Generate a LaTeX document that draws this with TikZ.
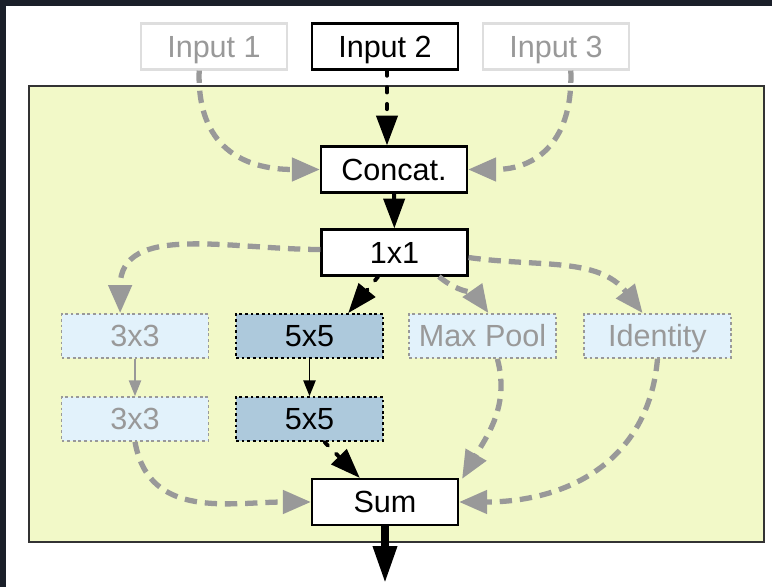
\documentclass[tikz,border=0pt]{standalone}
\usepackage{fontspec}
\setmainfont{Liberation Sans}
\usetikzlibrary{calc,arrows.meta}

\definecolor{pagedark}{HTML}{1A1F29}
\definecolor{blockfill}{HTML}{F2F9C8}
\definecolor{paleblue}{HTML}{E2F2FB}
\definecolor{steelfill}{HTML}{ADC9DC}
\definecolor{pathgray}{HTML}{999999}
\definecolor{fadegray}{HTML}{DEDEDE}

\begin{document}
\begin{tikzpicture}[
  x=0.02cm, y=-0.02cm,
  every node/.style={font=\fontsize{17.4}{20}\selectfont},
  layer/.style={draw, line width=1.2pt, fill=white, minimum width=2.92cm, minimum height=0.92cm, inner sep=0pt, text height=12.5pt, text depth=0pt},
  faded/.style={layer, draw=fadegray, text=pathgray},
  branch/.style={draw=pathgray, fill=paleblue, text=pathgray, line width=1pt, dash pattern=on 1.6pt off 1.6pt, minimum width=2.94cm, minimum height=0.88cm, inner sep=0pt, text height=12.5pt, text depth=0pt},
  picked/.style={branch, draw=black, fill=steelfill, text=black},
  skip/.style={draw=pathgray, line width=3pt, dash pattern=on 7pt off 4.5pt, -{Triangle[length=16pt,width=13pt]}},
  route/.style={draw=black, line width=2.2pt, line cap=round, dash pattern=on 3pt off 6.5pt, -{Triangle[length=17pt,width=12pt]}},
  flow/.style={draw=black, line width=2.2pt, -{Triangle[length=17pt,width=12pt]}},
  thin/.style={line width=0.9pt, -{Triangle[length=9pt,width=7pt]}},
]

% --- Hintergrund und Block ---
\fill[pagedark] (0,0) rectangle (772,587);
\fill[white] (6,6) rectangle (772,587);
\draw[fill=blockfill, draw=black!80, line width=1.2pt] (29,86) rectangle (764,542);

% --- Eingaenge ---
\node[faded] (in1) at (214,46.5) {Input 1};
\node[layer] (in2) at (385,46.5) {Input 2};
\node[faded] (in3) at (556,46.5) {Input 3};

% --- Zellknoten ---
\node[layer] (concat) at (394,169.5) {Concat.};
\node[layer] (conv1) at (394.5,252.5) {1x1};

\node[branch] (c3a) at (135,336) {3x3};
\node[picked] (c5a) at (309.5,336) {5x5};
\node[branch] (pool) at (482.5,336) {Max Pool};
\node[branch] (ident) at (657.5,336) {Identity};

\node[branch] (c3b) at (135,419) {3x3};
\node[picked] (c5b) at (309.5,419) {5x5};

\node[layer] (sum) at (385,502) {Sum};
\coordinate (out) at (385,583);

% --- Eingaenge -> Concat ---
\draw[skip] ($(in1.south west)!0.4!(in1.south east)$) to[out=-92,in=180,looseness=1.25] (concat.west);
\draw[skip] ($(in3.south west)!0.6!(in3.south east)$) to[out=-88,in=0,looseness=1.25] (concat.east);
\coordinate (in2s) at ($(in2.south)+(2,0)$);
\draw[route] (in2s) -- (in2s |- concat.north);
\draw[flow] (concat) -- (conv1);

% --- 1x1 -> Zweige ---
\draw[skip] ($(conv1.west)+(0,-3)$) to[out=180,in=90,looseness=1.1] ($(c3a.north west)!0.4!(c3a.north east)$);
\draw[route] ($(conv1.south west)!0.39!(conv1.south east)$) -- ($(c5a.north west)!0.76!(c5a.north east)$);
\draw[skip] ($(conv1.south west)!0.8!(conv1.south east)$) to[out=-40,in=125] ($(pool.north west)!0.54!(pool.north east)$);
\draw[skip] ($(conv1.east)+(0,5)$) to[out=-8,in=128] ($(ident.north west)!0.4!(ident.north east)$);

% --- innerhalb der Zweige ---
\draw[thin, pathgray] (c3a) -- (c3b);
\draw[thin, black] (c5a) -- (c5b);

% --- Zweige -> Sum ---
\draw[skip] (c3b.south) to[out=-80,in=180,looseness=1.1] (sum.west);
\draw[route] ($(c5b.south west)!0.6!(c5b.south east)$) -- ($(sum.north west)!0.33!(sum.north east)$);
\draw[skip] ($(pool.south west)!0.6!(pool.south east)$) to[out=-75,in=60] ($(sum.north east)+(3,1)$);
\draw[skip] (ident.south) to[out=-95,in=0,looseness=1.1] (sum.east);

% --- Ausgang ---
\draw[line width=4pt, -{Triangle[length=21pt,width=13pt]}] (sum.south) -- (out);

\end{tikzpicture}
\end{document}
